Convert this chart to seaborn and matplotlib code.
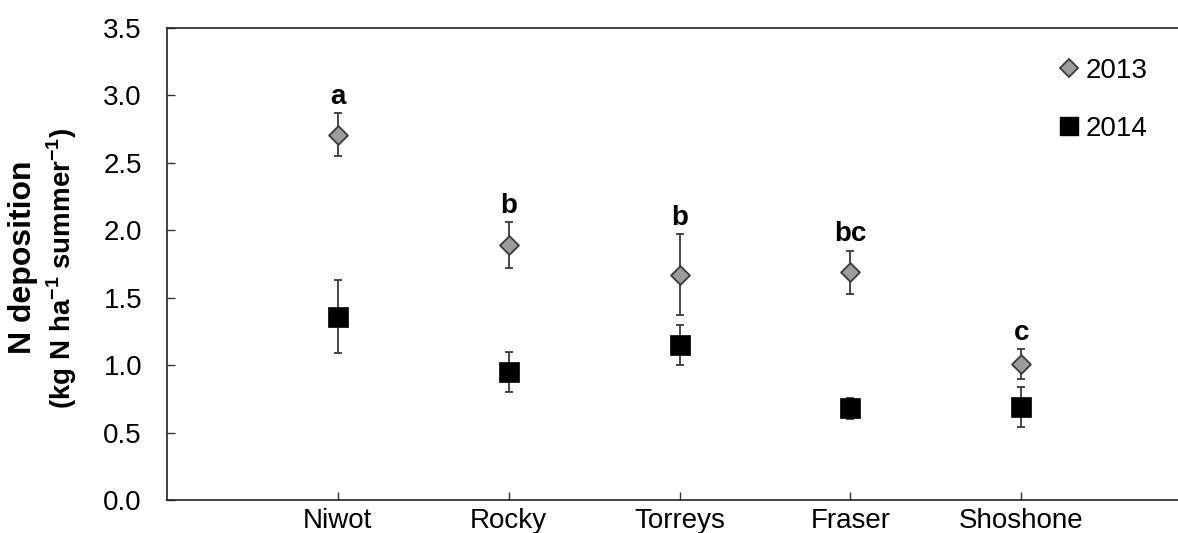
import numpy as np
import matplotlib
matplotlib.use("Agg")
import matplotlib.pyplot as plt
from matplotlib.lines import Line2D
import seaborn as sns

sites = ["Niwot", "Rocky", "Torreys", "Fraser", "Shoshone"]
mean_2013 = [2.71, 1.89, 1.67, 1.69, 1.01]
err_2013 = [0.16, 0.17, 0.30, 0.16, 0.11]
mean_2014 = [1.36, 0.95, 1.15, 0.68, 0.69]
err_2014 = [0.27, 0.15, 0.15, 0.08, 0.15]
letters = ["a", "b", "b", "bc", "c"]
yticks = [0.0, 0.5, 1.0, 1.5, 2.0, 2.5, 3.0, 3.5]

sns.set_theme(style="white")
plt.rcParams["font.family"] = ["Liberation Sans", "DejaVu Sans"]
plt.rcParams["mathtext.fontset"] = "custom"
plt.rcParams["mathtext.rm"] = "Liberation Sans"
plt.rcParams["mathtext.bf"] = "Liberation Sans:bold"
plt.rcParams["text.color"] = "black"
plt.rcParams["axes.labelcolor"] = "black"

W, H = 1178, 533
fig = plt.figure(figsize=(W / 100, H / 100), dpi=100)
ax = fig.add_axes([167 / W, 33 / H, 1025 / W, 472 / H])

x = np.arange(len(sites))
ecol = "#3a3a3a"

ax.errorbar(x, mean_2013, yerr=err_2013, fmt="none", ecolor=ecol,
            elinewidth=1.3, capsize=3, capthick=1.3, zorder=2)
ax.errorbar(x, mean_2014, yerr=err_2014, fmt="none", ecolor=ecol,
            elinewidth=1.3, capsize=3, capthick=1.3, zorder=2)

sns.scatterplot(x=x, y=mean_2013, marker="D", s=92, color="#9c9c9c",
                edgecolor="#3a3a3a", linewidth=1.3, ax=ax, zorder=3)
sns.scatterplot(x=x, y=mean_2014, marker="s", s=200, color="black",
                edgecolor="black", linewidth=0.5, ax=ax, zorder=3)

for xi, m, e, lab in zip(x, mean_2013, err_2013, letters):
    ax.annotate(lab, (xi, m + e), xytext=(0, 6.5), textcoords="offset points",
                ha="center", va="baseline", fontsize=20, fontweight="bold",
                color="black")

ax.set_xlim(-1, 5)
ax.set_ylim(0, 3.5)
ax.set_xticks(x)
ax.set_xticklabels(sites)
ax.set_yticks(yticks)
ax.set_yticklabels([f"{v:.1f}" for v in yticks])
ax.tick_params(axis="both", direction="in", length=6, width=1, color="#333333",
               labelsize=20, labelcolor="black")
ax.tick_params(axis="y", pad=18, left=True)
ax.tick_params(axis="x", pad=6, bottom=True)
for sp in ax.spines.values():
    sp.set_visible(True)
    sp.set_color("#222222")
    sp.set_linewidth(1.2)

# y-axis title: first line larger, second line (units) smaller
ax.set_ylabel("(kg N ha$^{\\mathbf{-1}}$ summer$^{\\mathbf{-1}}$)", fontsize=20,
              fontweight="bold", color="black")
ax.yaxis.set_label_coords(-0.086, 0.49)
ax.text(-0.1405, 0.515, "N deposition", transform=ax.transAxes, rotation=90,
        ha="center", va="center", fontsize=23, fontweight="bold", color="black")

handles = [
    Line2D([], [], marker="D", linestyle="none", markersize=9.5,
           markerfacecolor="#9c9c9c", markeredgecolor="#3a3a3a", markeredgewidth=1.3),
    Line2D([], [], marker="s", linestyle="none", markersize=13,
           markerfacecolor="black", markeredgecolor="black"),
]
leg = ax.legend(handles, ["2013", "2014"], loc="upper left", bbox_to_anchor=(0.856, 0.966),
                frameon=False, fontsize=20, handlelength=0.8, handletextpad=0.2,
                labelspacing=1.15, borderpad=0)
for t in leg.get_texts():
    t.set_color("black")

fig.savefig("out.png", dpi=100)
